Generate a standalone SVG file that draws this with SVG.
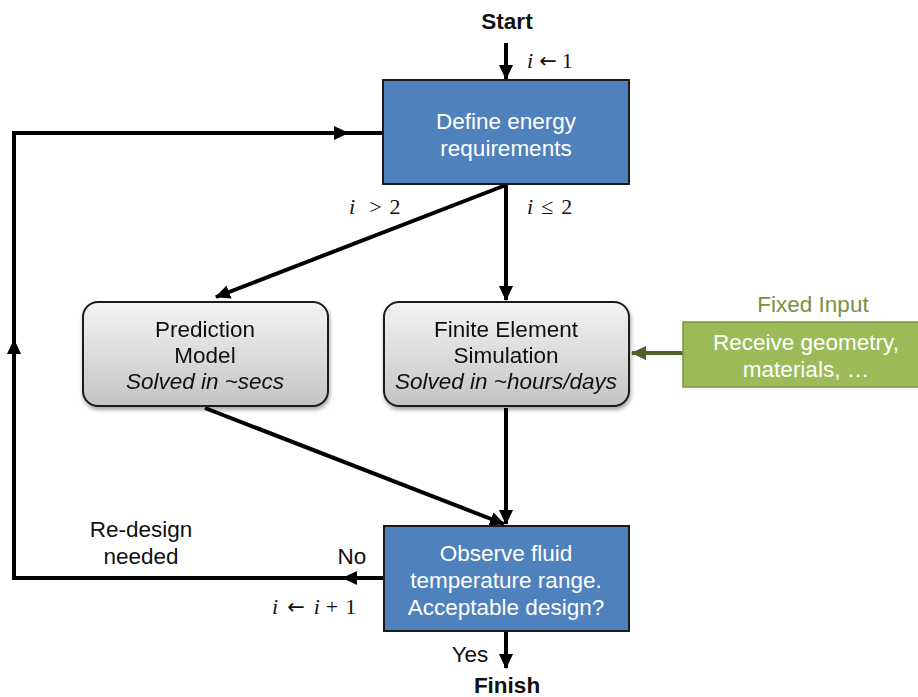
<svg xmlns="http://www.w3.org/2000/svg" width="918" height="697" viewBox="0 0 918 697">
<style>
.t{font-family:"Liberation Sans",Arial,sans-serif;font-size:22.5px;text-anchor:middle}
.w{fill:#ffffff}
.k{fill:#111111}
.b{font-weight:bold}
.it{font-style:italic}
.m{font-family:"Liberation Serif","Times New Roman",serif;font-size:22px;fill:#111}
.ar{font-family:"DejaVu Sans",sans-serif;font-size:21px}
.c{stroke:#000;stroke-width:4;fill:none}
.blue{fill:#4F81BD;stroke:#1a1a1a;stroke-width:2}
.gray{fill:url(#gg);stroke:#1a1a1a;stroke-width:2}
</style>
<defs>
<linearGradient id="gg" x1="0" y1="0" x2="0" y2="1">
<stop offset="0" stop-color="#f4f4f4"/>
<stop offset="1" stop-color="#c4c4c4"/>
</linearGradient>
<filter id="sh" x="-10%" y="-10%" width="125%" height="130%">
<feGaussianBlur in="SourceAlpha" stdDeviation="2"/>
<feOffset dx="1" dy="3"/>
<feComponentTransfer><feFuncA type="linear" slope="0.35"/></feComponentTransfer>
<feMerge><feMergeNode/><feMergeNode in="SourceGraphic"/></feMerge>
</filter>
<marker id="ah" markerUnits="userSpaceOnUse" markerWidth="16" markerHeight="14" refX="14" refY="7" orient="auto">
<path d="M0,0 L15,7 L0,14 z" fill="#000"/>
</marker>
<marker id="ag" markerUnits="userSpaceOnUse" markerWidth="16" markerHeight="14" refX="14" refY="7" orient="auto">
<path d="M0,0 L15,7 L0,14 z" fill="#4F6228"/>
</marker>
</defs>

<g id="connectors">
<line class="c" x1="506" y1="43" x2="506" y2="79" marker-end="url(#ah)"/>
<line class="c" x1="506" y1="185" x2="216" y2="297" marker-end="url(#ah)"/>
<line class="c" x1="506" y1="185" x2="506" y2="300" marker-end="url(#ah)"/>
<line class="c" x1="205" y1="408" x2="504" y2="524" marker-end="url(#ah)"/>
<line class="c" x1="506" y1="408" x2="506" y2="524" marker-end="url(#ah)"/>
<line class="c" x1="506" y1="632" x2="506" y2="668" marker-end="url(#ah)"/>
<line x1="683" y1="353" x2="632" y2="353" stroke="#4F6228" stroke-width="4" marker-end="url(#ag)"/>
<polyline class="c" points="383,578 14,578 14,133 383,133"/>
<line class="c" x1="383" y1="578" x2="343" y2="578" marker-end="url(#ah)"/>
<line class="c" x1="14" y1="578" x2="14" y2="340" marker-end="url(#ah)"/>
<line class="c" x1="14" y1="133" x2="348" y2="133" marker-end="url(#ah)"/>
</g>

<g id="start"><text class="t k b" x="507" y="29">Start</text></g>
<g id="finish"><text class="t k b" x="507" y="693">Finish</text></g>

<g id="define">
<rect class="blue" x="383" y="80" width="246" height="104"/>
<text class="t w" x="506" y="129">Define energy</text>
<text class="t w" x="506" y="156">requirements</text>
</g>

<g id="prediction" filter="url(#sh)">
<rect class="gray" x="83" y="302" width="245" height="104" rx="15"/>
<text class="t k" x="205" y="337">Prediction</text>
<text class="t k" x="205" y="363">Model</text>
<text class="t k it" x="205" y="389">Solved in ~secs</text>
</g>

<g id="fe" filter="url(#sh)">
<rect class="gray" x="384" y="302" width="245" height="104" rx="15"/>
<text class="t k" x="506" y="337">Finite Element</text>
<text class="t k" x="506" y="363">Simulation</text>
<text class="t k it" x="506" y="389">Solved in ~hours/days</text>
</g>

<g id="fixed">
<text class="t" x="813" y="312" fill="#76923C">Fixed Input</text>
<rect x="683" y="322" width="240" height="65" fill="#9BBB59" stroke="#7a9a3c" stroke-width="1.5"/>
<text class="t w" x="806" y="350">Receive geometry,</text>
<text class="t w" x="806" y="377">materials, …</text>
</g>

<g id="observe">
<rect class="blue" x="384" y="526" width="245" height="105"/>
<text class="t w" x="506" y="561">Observe fluid</text>
<text class="t w" x="506" y="588">temperature range.</text>
<text class="t w" x="506" y="615">Acceptable design?</text>
</g>

<g id="labels">
<text class="m" x="527" y="68"><tspan font-style="italic">i</tspan><tspan dx="6" class="ar">←</tspan><tspan dx="5">1</tspan></text>
<text class="m" x="349" y="214"><tspan font-style="italic">i</tspan><tspan dx="14">&gt;</tspan><tspan dx="8">2</tspan></text>
<text class="m" x="527" y="214"><tspan font-style="italic">i</tspan><tspan dx="8">≤</tspan><tspan dx="8">2</tspan></text>
<text class="t k" x="141" y="537">Re-design</text>
<text class="t k" x="141" y="564">needed</text>
<text class="t k" x="352" y="564">No</text>
<text class="m" x="272" y="614"><tspan font-style="italic">i</tspan><tspan dx="9" class="ar">←</tspan><tspan dx="9" font-style="italic">i</tspan><tspan dx="6">+</tspan><tspan dx="7">1</tspan></text>
<text class="t k" x="470" y="662">Yes</text>
</g>
</svg>
